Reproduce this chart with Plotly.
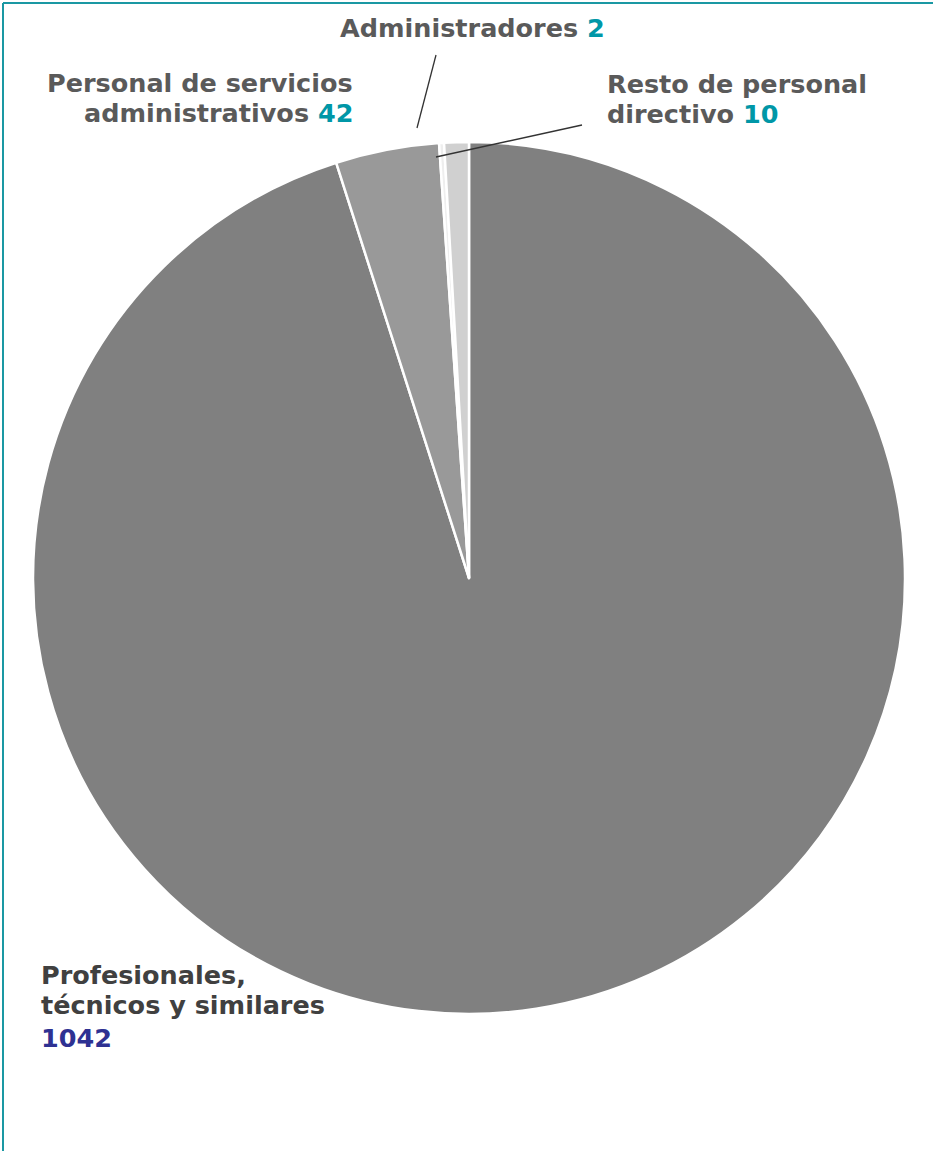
import plotly.graph_objects as go

W, H = 933, 1151

categories = ["Profesionales, técnicos y similares", "Personal de servicios administrativos",
              "Administradores", "Resto de personal directivo"]
values = [1042, 42, 2, 10]
colors = ["#808080", "#999999", "#eeeeee", "#d0d0d0"]

TEAL = "#0097a7"
NAVY = "#2e3192"

# label lines: (text, x, baseline_y, xanchor)
label_lines = [
    ("Resto de personal", 605, 92, "left"),
    (f"directivo <span style='color:{TEAL}'>10</span>", 605, 122, "left"),
    (f"Administradores <span style='color:{TEAL}'>2</span>", 472, 36, "center"),
    ("Personal de servicios", 355, 91, "right"),
    (f"administrativos <span style='color:{TEAL}'>42</span>", 355, 121, "right"),
    ("Profesionales,", 39, 983, "left"),
    ("técnicos y similares", 39, 1013, "left"),
    (f"<span style='color:{NAVY}'>1042</span>", 39, 1046, "left"),
]
dark_lines = {5, 6, 7}

def px(x):
    return x / W

def py(y):
    return 1 - y / H

cx, cy, r = 469, 578, 436

fig = go.Figure(go.Pie(
    labels=categories,
    values=values,
    sort=False,
    direction="clockwise",
    rotation=0,
    marker=dict(colors=colors, line=dict(color="white", width=2.5)),
    textinfo="none",
    hoverinfo="label+value",
    showlegend=False,
    domain=dict(x=[px(cx - r), px(cx + r)], y=[py(cy + r), py(cy - r)]),
))

FONT = "DejaVu Sans, Liberation Sans, Arial, sans-serif"
FS = 25.5

annotations = []
for i, (txt, x, base, anchor) in enumerate(label_lines):
    col = "#404040" if i in dark_lines else "#5a5a5a"
    annotations.append(dict(
        text=txt, x=px(x), y=py(base - 0.3 * FS), xanchor=anchor, yanchor="middle",
        xref="paper", yref="paper", showarrow=False, align=anchor,
        font=dict(family=FONT, size=FS, color=col, weight="bold"),
    ))

shapes = [
    # frame (top and left)
    dict(type="line", xref="paper", yref="paper", x0=px(3), x1=1, y0=py(3), y1=py(3),
         line=dict(color="#1a98a3", width=2)),
    dict(type="line", xref="paper", yref="paper", x0=px(3), x1=px(3), y0=py(3), y1=0,
         line=dict(color="#1a98a3", width=2)),
    # leader lines
    dict(type="line", xref="paper", yref="paper", x0=px(436), y0=py(55), x1=px(417), y1=py(128),
         line=dict(color="#333333", width=1.3)),
    dict(type="line", xref="paper", yref="paper", x0=px(582), y0=py(125), x1=px(436), y1=py(157),
         line=dict(color="#333333", width=1.3)),
]

fig.update_layout(
    width=W, height=H,
    margin=dict(l=0, r=0, t=0, b=0),
    paper_bgcolor="white",
    plot_bgcolor="white",
    annotations=annotations,
    shapes=shapes,
)

fig.write_html("out.html", config={"displayModeBar": False},
               post_script="document.body.style.margin='0';document.body.style.overflow='hidden';")
